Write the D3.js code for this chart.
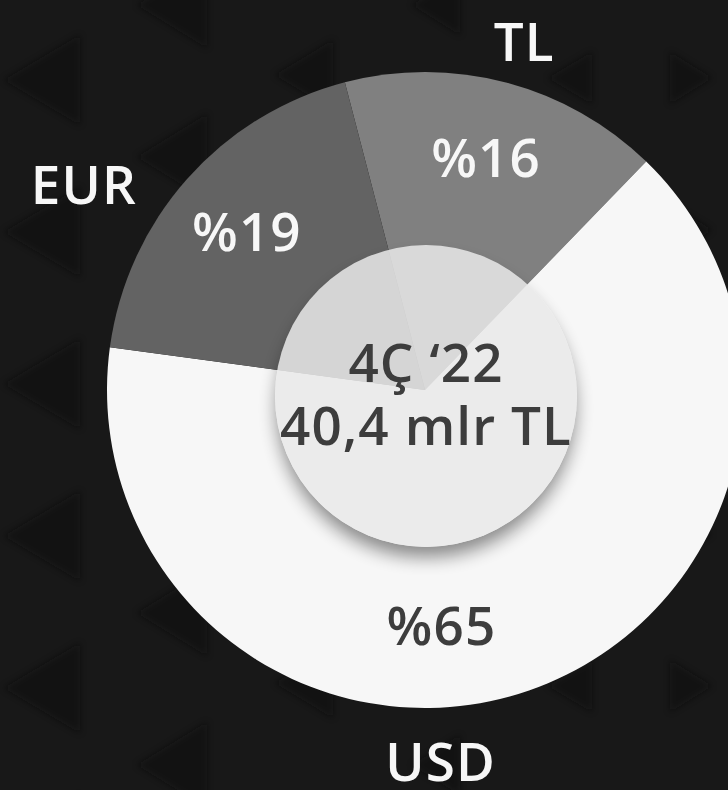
<!DOCTYPE html>
<html>
<head>
<meta charset="utf-8">
<script src="https://cdn.jsdelivr.net/npm/d3@7"></script>
<style>
  html, body { margin: 0; padding: 0; background: #181818; }
  svg { display: block; }
  text { font-family: "Open Sans", "Noto Sans", sans-serif; font-weight: 650; letter-spacing: 1.1px; }
</style>
</head>
<body>
<svg id="chart" width="728" height="790"></svg>
<script>
// ---- data ----
const categories = ["TL", "USD", "EUR"];
const shares = [16.3, 64.9, 18.8];          // % of total
const shareLabels = ["%16", "%65", "%19"];
const sliceColors = ["#808080", "#f7f7f7", "#636363"];
const centerLines = ["4Ç ‘22", "40,4 mlr TL"];

// ---- layout ----
const W = 728, H = 790;
const cx = 425, cy = 390, R = 318;
const innerCx = 426, innerCy = 396, innerR = 151;
const startDeg = -14.6;
const FS = 53;

const svg = d3.select("#chart");
const defs = svg.append("defs");

// background
svg.append("rect").attr("width", W).attr("height", H).attr("fill", "#181818");

// faint decorative triangles
defs.append("filter").attr("id", "triBlur")
  .append("feGaussianBlur").attr("stdDeviation", 3);
const triG = svg.append("g").attr("filter", "url(#triBlur)").attr("fill", "#0f0f0f").attr("opacity", 0.5);
const triCols = [
  {edge: 80, w: 76, h: 90, dir: -1, row0: 80},
  {edge: 207, w: 70, h: 86, dir: -1, row0: 5},
  {edge: 333, w: 58, h: 70, dir: -1, row0: 75},
  {edge: 460, w: 48, h: 60, dir: -1, row0: 5},
  {edge: 592, w: 44, h: 52, dir: -1, row0: 78},
  {edge: 670, w: 42, h: 52, dir: 1, row0: 78}
];
triCols.forEach(c => {
  for (let y = c.row0; y < H + 80; y += 152) {
    const tip = c.edge + c.dir * c.w;
    triG.append("path").attr("d",
      `M${c.edge},${y - c.h/2} L${c.edge},${y + c.h/2} L${tip},${y} Z`);
  }
});

// pie
const pie = d3.pie().sort(null).value(d => d.v)
  .startAngle(startDeg * Math.PI / 180)
  .endAngle((startDeg + 360) * Math.PI / 180);
const rows = categories.map((c, i) => ({c, v: shares[i], label: shareLabels[i], color: sliceColors[i]}));
const arcs = pie(rows);
const arc = d3.arc().innerRadius(0).outerRadius(R);

const g = svg.append("g").attr("transform", `translate(${cx},${cy})`);
g.selectAll("path.slice").data(arcs).join("path")
  .attr("class", "slice")
  .attr("d", arc)
  .attr("fill", d => d.data.color);

// percentage labels (polar placement)
const labelPolar = {TL: {r: 240, a: null}, EUR: {r: 238, a: null}, USD: {r: 236, a: 176}};
g.selectAll("text.pct").data(arcs).join("text")
  .attr("class", "pct")
  .attr("text-anchor", "middle")
  .attr("dy", "0.36em")
  .attr("font-size", FS)
  .attr("fill", d => d.data.c === "USD" ? "#3d3d3d" : "#f7f7f7")
  .attr("transform", d => {
    const lp = labelPolar[d.data.c];
    const a = lp.a !== null ? lp.a * Math.PI / 180 : (d.startAngle + d.endAngle) / 2;
    return `translate(${lp.r * Math.sin(a)},${-lp.r * Math.cos(a)})`;
  })
  .text(d => d.data.label);

// category labels outside
const outerPolar = {TL: {r: 362, a: 15.9}, EUR: {r: 398, a: 301}, USD: {r: 372, a: 177.6}};
g.selectAll("text.cat").data(arcs).join("text")
  .attr("class", "cat")
  .attr("text-anchor", "middle")
  .attr("dy", "0.36em")
  .attr("font-size", FS)
  .attr("fill", "#f7f7f7")
  .attr("transform", d => {
    const lp = outerPolar[d.data.c];
    const a = lp.a * Math.PI / 180;
    return `translate(${lp.r * Math.sin(a)},${-lp.r * Math.cos(a)})`;
  })
  .text(d => d.data.c);

// centre circle shadow (masked so it does not show through the translucent disc)
const mask = defs.append("mask").attr("id", "outsideDisc");
mask.append("rect").attr("width", W).attr("height", H).attr("fill", "white");
mask.append("circle").attr("cx", innerCx).attr("cy", innerCy).attr("r", innerR).attr("fill", "black");
defs.append("filter").attr("id", "shBlur").attr("x", "-50%").attr("y", "-50%").attr("width", "200%").attr("height", "200%")
  .append("feGaussianBlur").attr("stdDeviation", 9);
svg.append("g").attr("mask", "url(#outsideDisc)")
  .append("circle")
  .attr("cx", innerCx).attr("cy", innerCy + 12).attr("r", innerR - 2)
  .attr("fill", "#000").attr("opacity", 0.45)
  .attr("filter", "url(#shBlur)");

svg.append("circle")
  .attr("cx", innerCx).attr("cy", innerCy).attr("r", innerR)
  .attr("fill", "#e9e9e9").attr("fill-opacity", 0.85);

// centre text
svg.append("text").attr("x", innerCx).attr("y", 382)
  .attr("text-anchor", "middle").attr("font-size", FS).attr("fill", "#3d3d3d")
  .text(centerLines[0]);
svg.append("text").attr("x", innerCx).attr("y", 445)
  .attr("text-anchor", "middle").attr("font-size", FS).attr("fill", "#3d3d3d")
  .text(centerLines[1]);
</script>
</body>
</html>
